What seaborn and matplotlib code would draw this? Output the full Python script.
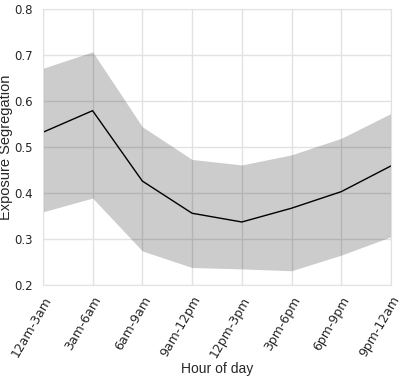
import matplotlib
matplotlib.use("Agg")
import matplotlib.pyplot as plt
import seaborn as sns

# Hour-of-day bins and the segregation estimate with its band
hours = ["12am-3am", "3am-6am", "6am-9am", "9am-12pm",
         "12pm-3pm", "3pm-6pm", "6pm-9pm", "9pm-12am"]
mean_seg = [0.532, 0.579, 0.426, 0.356, 0.337, 0.367, 0.403, 0.459]
upper_seg = [0.671, 0.707, 0.544, 0.473, 0.461, 0.483, 0.519, 0.573]
lower_seg = [0.359, 0.389, 0.274, 0.238, 0.235, 0.231, 0.265, 0.305]

sns.set_style("whitegrid")
plt.rcParams['font.family'] = ['DejaVu Sans']

fig, ax = plt.subplots(figsize=(4.16, 3.76), dpi=100)
fig.subplots_adjust(left=0.103, right=0.94, top=0.976, bottom=0.242)

# Shaded band first, then the mean line on top
ax.fill_between(hours, lower_seg, upper_seg, color='black', alpha=0.2, linewidth=0)
sns.lineplot(x=hours, y=mean_seg, color='black', linewidth=1, sort=False, ax=ax)

ax.set_xlim(0, len(hours) - 1)
ax.set_ylim(0.2, 0.8)
ax.set_yticks([0.2, 0.3, 0.4, 0.5, 0.6, 0.7, 0.8])
ax.grid(True, color='#e2e2e2', linewidth=1)
for s in ax.spines.values():
    s.set_color('#e2e2e2')

ax.tick_params(axis='y', labelsize=8.5, pad=4)
ax.tick_params(axis='x', labelsize=9, pad=3)
plt.setp(ax.get_xticklabels(), rotation=60, ha='right', rotation_mode='anchor')
ax.set_xlabel('Hour of day', fontsize=10, family='Liberation Sans', labelpad=2)
ax.set_ylabel('Exposure Segregation', fontsize=10.5, family='Liberation Sans')
ax.yaxis.set_label_coords(-0.085, 0.5)

plt.savefig('out.png', dpi=100)
